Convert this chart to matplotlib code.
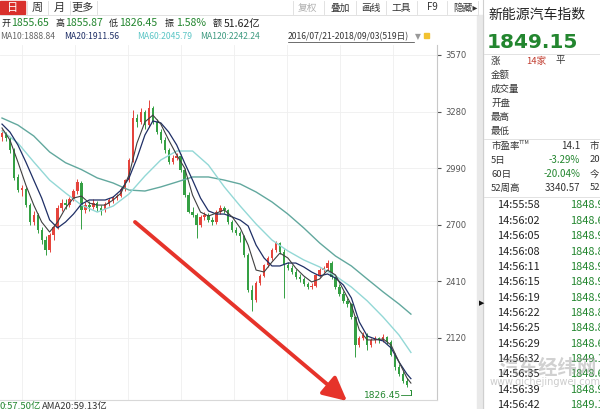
import matplotlib.pyplot as plt
from matplotlib.patches import Rectangle
import numpy as np

plt.rcParams['font.family'] = ['Noto Sans CJK SC', 'DejaVu Sans']

# --- candles (one candle ~ one trading week, 2016/07/21 - 2018/09/03) ---
opens = [3150, 3165, 3140, 3085, 2945, 2880, 2885, 2800, 2715, 2750,
         2675, 2620, 2570, 2650, 2690, 2785, 2810, 2800, 2830, 2875,
         2915, 2775, 2800, 2790, 2810, 2785, 2775, 2805, 2825, 2835,
         2845, 2885, 2930, 3030, 3245, 3225, 3280, 3210, 3300, 3225,
         3175, 3135, 3085, 3020, 3040, 3055, 2980, 2855, 2765, 2750,
         2700, 2740, 2750, 2725, 2715, 2765, 2785, 2775, 2715, 2675,
         2660, 2640, 2545, 2365, 2315, 2400, 2440, 2495, 2530, 2570,
         2605, 2560, 2495, 2480, 2460, 2430, 2420, 2395, 2380, 2385,
         2445, 2470, 2480, 2505, 2430, 2380, 2345, 2310, 2295, 2225,
         2085, 2120, 2135, 2085, 2110, 2120, 2110, 2125, 2100, 2035,
         1970, 1935, 1900, 1855.65]
highs = [3190, 3175, 3150, 3095, 2960, 2905, 2895, 2810, 2770, 2760,
         2690, 2640, 2660, 2700, 2800, 2830, 2830, 2840, 2885, 2935,
         2925, 2815, 2820, 2830, 2820, 2800, 2815, 2835, 2845, 2860,
         2895, 2935, 3040, 3290, 3270, 3300, 3290, 3340, 3310, 3240,
         3190, 3150, 3095, 3060, 3070, 3065, 2990, 2870, 2790, 2760,
         2750, 2765, 2760, 2740, 2775, 2800, 2795, 2780, 2725, 2690,
         2670, 2650, 2555, 2390, 2410, 2450, 2500, 2540, 2580, 2615,
         2610, 2575, 2510, 2495, 2475, 2450, 2435, 2405, 2400, 2450,
         2480, 2490, 2520, 2515, 2445, 2395, 2360, 2325, 2300, 2235,
         2130, 2150, 2145, 2120, 2130, 2125, 2140, 2130, 2110, 2045,
         1985, 1950, 1915, 1855.87]
lows = [3130, 3130, 3070, 2930, 2870, 2845, 2790, 2700, 2700, 2660,
        2600, 2545, 2560, 2620, 2680, 2770, 2780, 2790, 2820, 2860,
        2680, 2760, 2770, 2780, 2770, 2750, 2765, 2795, 2810, 2825,
        2840, 2875, 2920, 3020, 3200, 3215, 3190, 3200, 3215, 3165,
        3120, 3070, 3010, 3010, 3030, 2970, 2840, 2760, 2740, 2630,
        2690, 2725, 2715, 2700, 2705, 2755, 2760, 2705, 2665, 2650,
        2610, 2535, 2355, 2260, 2305, 2390, 2430, 2485, 2520, 2560,
        2550, 2325, 2470, 2450, 2420, 2405, 2385, 2370, 2370, 2380,
        2435, 2460, 2470, 2420, 2370, 2335, 2300, 2280, 2215, 2020,
        2075, 2110, 2060, 2075, 2095, 2095, 2100, 2090, 2030, 1955,
        1925, 1890, 1870, 1826.45]
closes = [3170, 3145, 3085, 2940, 2880, 2890, 2800, 2715, 2750, 2675,
          2620, 2570, 2650, 2690, 2785, 2810, 2800, 2830, 2875, 2920,
          2775, 2800, 2790, 2810, 2785, 2775, 2805, 2825, 2835, 2845,
          2885, 2930, 3030, 3245, 3225, 3280, 3210, 3300, 3225, 3175,
          3135, 3085, 3020, 3040, 3055, 2980, 2855, 2765, 2750, 2700,
          2740, 2750, 2725, 2715, 2765, 2785, 2775, 2715, 2675, 2660,
          2640, 2545, 2365, 2315, 2400, 2440, 2495, 2530, 2570, 2605,
          2560, 2495, 2480, 2460, 2430, 2420, 2395, 2380, 2385, 2445,
          2470, 2480, 2505, 2430, 2380, 2345, 2310, 2295, 2225, 2085,
          2120, 2135, 2085, 2110, 2120, 2110, 2125, 2100, 2035, 1970,
          1935, 1900, 1880, 1849.15]

# moving averages
ma_idx_short = list(range(0, 104, 2)) + [103]
ma10 = [3196, 3134, 3022, 2904, 2801, 2714, 2663, 2714, 2786, 2837,
        2847, 2811, 2801, 2801, 2827, 2863, 2955, 3119, 3227, 3262,
        3216, 3134, 3058, 2991, 2852, 2765, 2745, 2760, 2776, 2740,
        2684, 2596, 2468, 2458, 2509, 2555, 2530, 2478, 2438, 2407,
        2422, 2468, 2443, 2366, 2289, 2161, 2110, 2110, 2115, 2084,
        1997, 1915, 1888.84]
ma20 = [3216, 3175, 3109, 3022, 2929, 2837, 2725, 2684, 2714, 2755,
        2806, 2827, 2827, 2827, 2842, 2878, 2940, 3042, 3160, 3232,
        3222, 3175, 3109, 3017, 2929, 2837, 2771, 2755, 2755, 2740,
        2724, 2694, 2596, 2530, 2489, 2489, 2504, 2504, 2484, 2458,
        2438, 2448, 2427, 2391, 2325, 2202, 2130, 2115, 2105, 2069,
        1997, 1935, 1911.56]
ma_idx_long = list(range(0, 104, 4)) + [103]
ma60 = [3181, 3119, 3022, 2929, 2863, 2801, 2765, 2796, 2858, 2950,
        3032, 3078, 3078, 3006, 2894, 2796, 2704, 2622, 2566, 2520,
        2484, 2438, 2381, 2310, 2227, 2135, 2045.79]
ma120 = [3247, 3211, 3155, 3073, 3018, 2983, 2940, 2914, 2878, 2873,
         2894, 2919, 2945, 2945, 2929, 2909, 2868, 2817, 2755, 2684,
         2607, 2540, 2489, 2422, 2356, 2294, 2242.24]

price_ticks = [2120, 2410, 2700, 2990, 3280, 3570]

times = ['14:55:58', '14:56:02', '14:56:05', '14:56:08', '14:56:11', '14:56:15',
         '14:56:19', '14:56:22', '14:56:25', '14:56:29', '14:56:32', '14:56:35',
         '14:56:39', '14:56:42']
ticks_px = ['1848.91', '1848.62', '1848.93', '1848.85', '1848.96', '1848.94',
            '1848.93', '1848.86', '1848.84', '1848.63', '1849.12', '1848.64',
            '1848.95', '1849.10']

GREEN = '#23862f'
RED_UP = '#e5443c'
DOWN = '#35a044'

fig = plt.figure(figsize=(6, 4.09), dpi=100)
fig.patch.set_facecolor('white')

# ---- main K-line panel ----
ax = fig.add_axes([0, 9 / 409, 437 / 600, 355 / 409])
n = len(closes)
idx = np.arange(n)
o = np.array(opens, dtype=float)
c = np.array(closes, dtype=float)
up = c >= o
cols = np.where(up, RED_UP, DOWN)
ax.vlines(idx, lows, highs, colors=cols, lw=0.7, zorder=2)
body = np.maximum(np.abs(c - o), 4)
ax.bar(idx, body, bottom=np.minimum(o, c), width=0.6, color=cols, linewidth=0, zorder=2)

ax.plot(ma_idx_long, ma120, color='#62a89e', lw=1.0, zorder=3)
ax.plot(ma_idx_long, ma60, color='#93d8d6', lw=1.0, zorder=3)
ax.plot(ma_idx_short, ma20, color='#1f2f66', lw=0.9, zorder=4)
ax.plot(ma_idx_short, ma10, color='#404040', lw=0.8, zorder=4)

imin = int(np.argmin(lows))
ax.plot([imin - 2.4, imin], [lows[imin], lows[imin]], color=GREEN, lw=0.6)
ax.plot([imin, imin], [lows[imin], lows[imin] + 20], color=GREEN, lw=0.6)
ax.text(imin - 2.6, lows[imin], f'{lows[imin]:.2f}', ha='right', va='center',
        fontsize=6.5, color=GREEN, family='DejaVu Sans')

ax.set_xlim(-0.504, 109.57)
ax.set_ylim(1802.2, 3621.2)
ax.yaxis.tick_right()
ax.set_yticks(price_ticks)
ax.set_yticklabels([str(t) for t in price_ticks], family='DejaVu Sans')
ax.tick_params(axis='y', direction='out', length=3, pad=3, labelsize=6,
               colors='#555555')
ax.set_xticks([5, 18.4, 31.7, 45, 58.4, 71.8, 85.1, 98.5])
ax.tick_params(axis='x', length=0, labelbottom=False)
ax.grid(True, color='#efefef', lw=0.6, zorder=0)
for s in ['top', 'left']:
    ax.spines[s].set_visible(False)
ax.spines['right'].set_color('#c8c8c8')
ax.spines['bottom'].set_color('#d8d8d8')
ax.spines['right'].set_linewidth(0.8)
ax.spines['bottom'].set_linewidth(0.8)

# ---- overlay for header, side panel and annotation ----
ov = fig.add_axes([0, 0, 1, 1], facecolor='none')
ov.set_xlim(0, 600)
ov.set_ylim(409, 0)
ov.axis('off')

# tabs
ov.add_patch(Rectangle((0, 1), 25, 13, color='#d9302c'))
ov.text(12.5, 7.5, '日', color='white', fontsize=8, ha='center', va='center')
for x, t in [(37, '周'), (59, '月'), (83, '更多')]:
    ov.text(x, 7.5, t, color='#333333', fontsize=8, ha='center', va='center')
for x in [27, 48, 70, 97]:
    ov.plot([x, x], [1, 14], color='#dddddd', lw=0.6)
for x, t, cl in [(307, '复权', '#b0b0b0'), (340, '叠加', '#333333'),
                 (371, '画线', '#333333'), (401, '工具', '#333333'),
                 (432, 'F9', '#333333'), (465, '隐藏▸', '#333333')]:
    ov.text(x, 7.5, t, color=cl, fontsize=7, ha='center', va='center')
for x in [293, 324, 356, 386, 417, 447, 478]:
    ov.plot([x, x], [1, 14], color='#dddddd', lw=0.6)
ov.plot([0, 478], [15, 15], color='#dddddd', lw=0.6)

# quote row
for x, t in [(1, '开'), (55, '高'), (109, '低'), (165, '振'), (213, '额')]:
    ov.text(x, 23.5, t, color='#222222', fontsize=6.5, ha='left', va='center')
for x, t, cl in [(11, '1855.65', GREEN), (65, '1855.87', GREEN), (119, '1826.45', GREEN),
                 (176, '1.58%', GREEN), (224, '51.62亿', '#222222')]:
    ov.text(x, 23.5, t, color=cl, fontsize=7.6, ha='left', va='center')

# MA legend row
for x, t, cl in [(0, 'MA10:1888.84', '#666666'), (64, 'MA20:1911.56', '#1f2f66'),
                 (137, 'MA60:2045.79', '#5cc6c6'), (200, 'MA120:2242.24', '#3e9a80')]:
    ov.text(x, 36.5, t, color=cl, fontsize=6.2, ha='left', va='center')
ov.text(288, 36.5, '2016/07/21-2018/09/03(519日)', color='#333333', fontsize=6.2,
        ha='left', va='center')
ov.plot([288, 414], [41.5, 41.5], color='#333333', lw=0.5)
ov.text(418, 36.5, '▼', color='#999999', fontsize=5.5, ha='center', va='center',
        family='DejaVu Sans')
ov.add_patch(Rectangle((424, 33), 5, 5, color='#f2c230'))

# bottom cut-off volume line
ov.text(-1, 401.5, '0:57.50亿', color=GREEN, fontsize=6.8, ha='left', va='top')
ov.text(42, 401.5, 'AMA20:59.13亿', color='#333333', fontsize=6.8, ha='left', va='top')

# red trend arrow
ov.annotate('', xy=(347, 401), xytext=(135, 222),
            arrowprops=dict(arrowstyle='-|>,head_length=0.8,head_width=0.4',
                            mutation_scale=18, color='#e6332a', lw=2.8,
                            shrinkA=0, shrinkB=0))

# side panel
ov.add_patch(Rectangle((477, 15), 6, 394, color='#e9e9e9'))
ov.plot([483, 483], [0, 409], color='#cfcfcf', lw=0.8)
ov.text(482, 303, '▶', color='#111111', fontsize=5, ha='center', va='center',
        family='DejaVu Sans')
ov.text(488, 15, '新能源汽车指数', color='#222222', fontsize=10, ha='left', va='center')
ov.text(487, 42, '1849.15', color=GREEN, fontsize=14.5, fontweight='bold',
        ha='left', va='center', family='DejaVu Sans')
ov.plot([484, 600], [54, 54], color='#dddddd', lw=0.6)
ov.text(491, 61, '涨', color='#333333', fontsize=6.8, va='center')
ov.text(526, 61, '14家', color='#c0392b', fontsize=6.8, va='center')
ov.text(556, 61, '平', color='#333333', fontsize=6.8, va='center')
for k, t in enumerate(['金额', '成交量', '开盘', '最高', '最低']):
    ov.text(491, 75 + 14 * k, t, color='#333333', fontsize=6.8, va='center')
ov.plot([484, 600], [139, 139], color='#dddddd', lw=0.6)
rows = [('市盈率', '14.1', '#333333', '市'), ('5日', '-3.29%', GREEN, '20'),
        ('60日', '-20.04%', GREEN, '今'), ('52周高', '3340.57', '#333333', '52')]
for k, (lab, val, cl, extra) in enumerate(rows):
    y = 146 + 14 * k
    ov.text(491, y, lab, color='#333333', fontsize=6.8, va='center')
    ov.text(580, y, val, color=cl, fontsize=7, ha='right', va='center')
    ov.text(590, y, extra, color='#333333', fontsize=6.8, va='center')
ov.text(519, 143, 'TTM', color='#333333', fontsize=3.8, va='center')
ov.plot([484, 600], [197, 197], color='#dddddd', lw=0.6)
for k, (t, v) in enumerate(zip(times, ticks_px)):
    y = 205.5 + 15.35 * k
    ov.text(497, y, t, color='#222222', fontsize=7.9, va='center')
    ov.text(570, y, v, color=GREEN, fontsize=7.9, va='center')

# watermark
ov.text(548, 368, '汽车经纬网', color='#9a9a9a', alpha=0.45, fontsize=14,
        fontweight='bold', ha='center', va='center')
ov.text(545, 382, 'www.qichejingwei.com', color='#9a9a9a', alpha=0.5, fontsize=7,
        ha='center', va='center', family='DejaVu Sans')

fig.savefig('out.png', dpi=100)
